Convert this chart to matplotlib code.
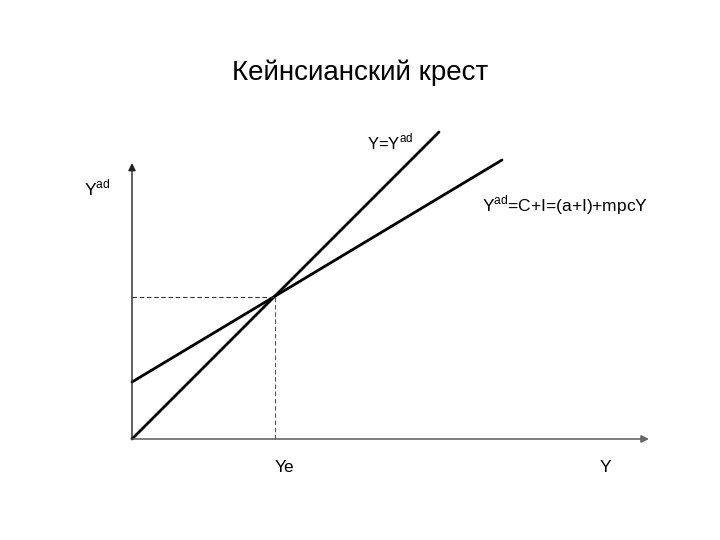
import numpy as np
import matplotlib
matplotlib.use('Agg')
import matplotlib.pyplot as plt

plt.rcParams['font.family'] = ['Liberation Sans', 'DejaVu Sans']
plt.rcParams['mathtext.fontset'] = 'custom'
plt.rcParams['mathtext.rm'] = 'Liberation Sans'

# model (units ~ pixels of the original slide)
a = 57          # autonomous spending (a+I)
mpc = 0.6       # marginal propensity to consume
y_ad_end = 370  # where the Yad line stops
y45_end = 307   # where the 45 degree line stops
x_axis_len = 517
y_axis_len = 276

title = 'Кейнсианский крест'
lbl_yad_axis = r'Y$^{\mathrm{ad}}$'
lbl_45 = r'Y=Y$^{\mathrm{ad}}$'
lbl_ad = r'Y$^{\mathrm{ad}}$=C+I=(a+I)+mpcY'
lbl_ye = 'Ye'
lbl_y = 'Y'

Ye = a / (1 - mpc)

fig = plt.figure(figsize=(7.2, 5.4), dpi=100)
ax = fig.add_axes([0, 0, 1, 1])
ax.set_xlim(-132, 588)
ax.set_ylim(-101, 439)
ax.axis('off')

# axes with arrows
ax.annotate('', xy=(x_axis_len, 0), xytext=(0, 0),
            arrowprops=dict(arrowstyle='-|>', color='#666666', lw=1.2,
                            mutation_scale=11, shrinkA=0, shrinkB=0))
ax.annotate('', xy=(0, y_axis_len), xytext=(0, 0),
            arrowprops=dict(arrowstyle='-|>', color='#222222', lw=1.0,
                            mutation_scale=11, shrinkA=0, shrinkB=0))

# lines
y45 = np.array([0, y45_end])
ax.plot(y45, y45, color='black', lw=2, solid_capstyle='round')
yy = np.array([0, y_ad_end])
ax.plot(yy, a + mpc * yy, color='black', lw=2, solid_capstyle='round')

# equilibrium guides
ax.plot([0, Ye], [Ye, Ye], color='#333333', lw=0.8, ls=(0, (4, 2.5)))
ax.plot([Ye, Ye], [0, Ye], color='#555555', lw=0.8, ls=(0, (4, 2.5)))

# text
fig.text(0.5, 1 - 73 / 540, title, ha='center', va='center', fontsize=20)
fs = 12.5
ax.text(-48, 439 - 195, lbl_yad_axis, fontsize=fs, ha='left', va='baseline')
ax.text(235, 439 - 149, lbl_45, fontsize=12, ha='left', va='baseline')
ax.text(350, 439 - 211, lbl_ad, fontsize=fs, ha='left', va='baseline')
ax.text(Ye, 439 - 472, lbl_ye, fontsize=fs, ha='left', va='baseline')
ax.text(468, 439 - 472, lbl_y, fontsize=fs, ha='left', va='baseline')

fig.savefig('out.png', dpi=100)
